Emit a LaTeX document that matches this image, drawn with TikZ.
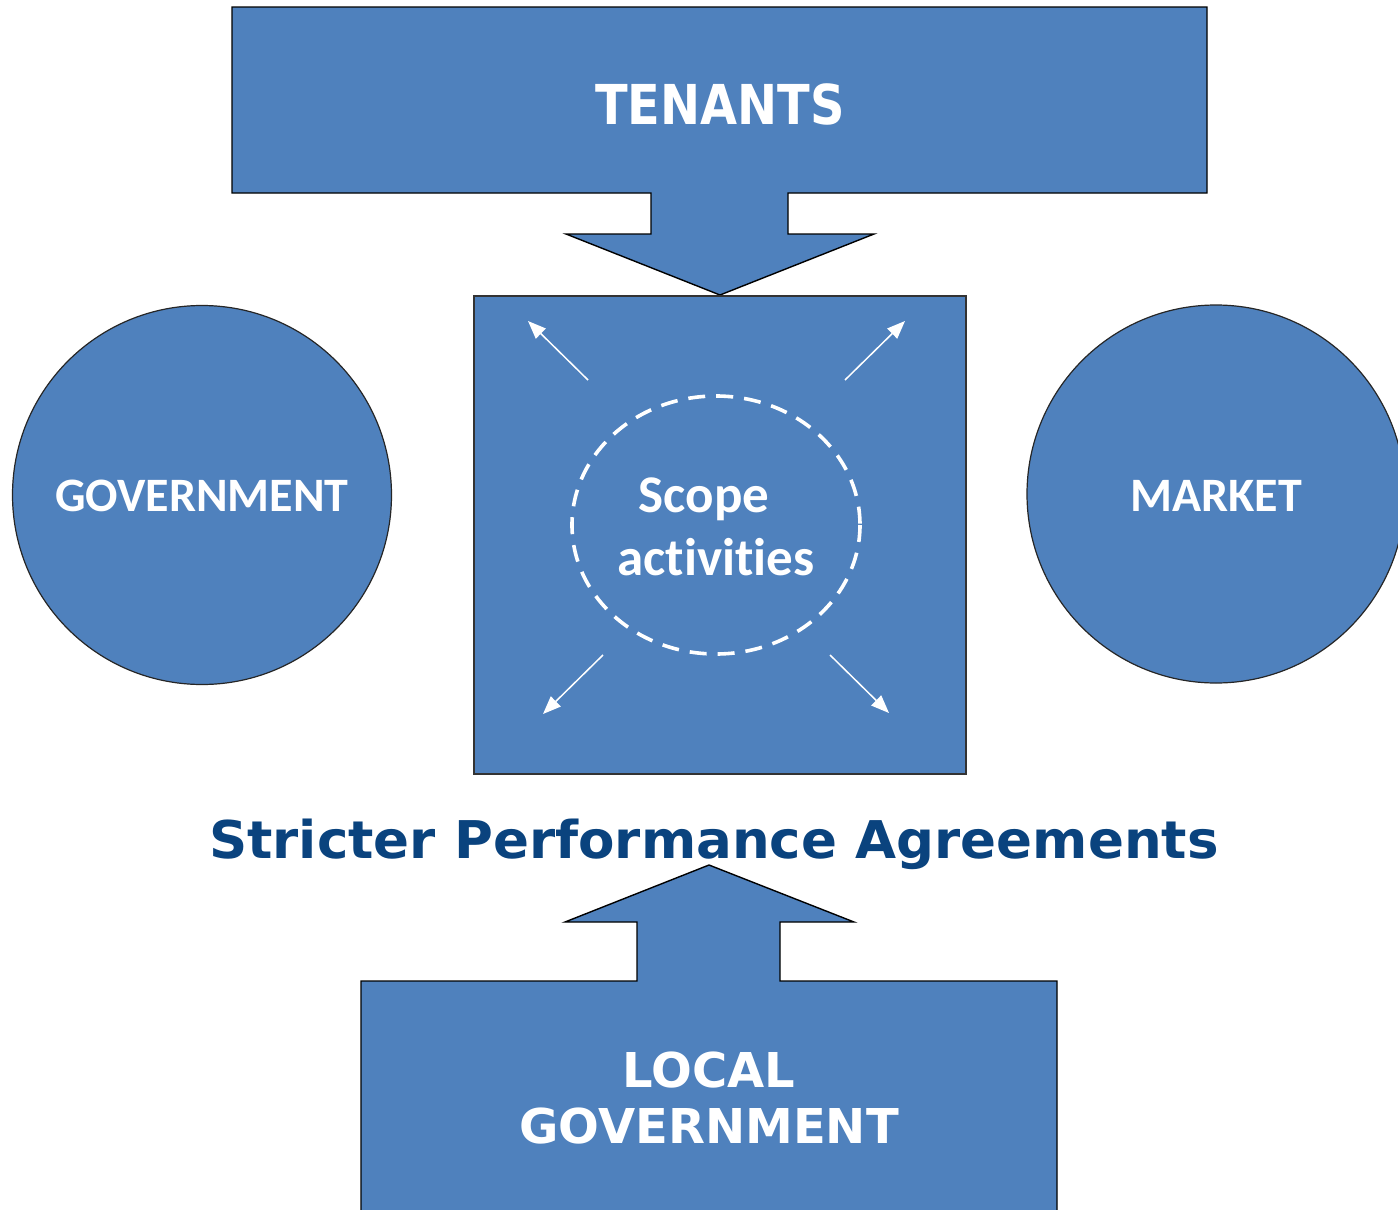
\documentclass[tikz,border=0pt]{standalone}
\usepackage{fontspec}
\usetikzlibrary{arrows.meta,shapes.geometric}
\newfontfamily\calfont[Ligatures=NoCommon]{Carlito}
\newfontfamily\verdfont{DejaVu Sans}
\definecolor{boxblue}{HTML}{4F81BD}
\definecolor{titleblue}{HTML}{0A437E}
\tikzset{
  blueshape/.style={fill=boxblue, draw=black, line width=1.4pt, line join=miter},
  ringtext/.style={text=white, font=\calfont\bfseries\fontsize{48}{52}\selectfont},
  bannertext/.style={text=white, font=\verdfont\bfseries\fontsize{48}{56}\selectfont, align=center},
  spread/.style={draw=white, line width=1.5pt, -{Triangle[length=18pt,width=14pt]}},
}
\begin{document}
\begin{tikzpicture}[x=1pt,y=-1pt]
\useasboundingbox (0,0) rectangle (1398,1210);
\fill[white] (0,0) rectangle (1398,1210);

% top block arrow pointing down
\draw[blueshape] (232,7) -- (1207,7) -- (1207,193) -- (788,193) -- (788,234)
  -- (874,234) -- (720,295) -- (566,234) -- (651,234) -- (651,193) -- (232,193) -- cycle;
\node[bannertext, anchor=base, font=\verdfont\bfseries\fontsize{55}{56}\selectfont] (tenants) at (720,124)
  {\scalebox{0.87}[1]{TENANTS}};

% central square
\draw[fill=boxblue, draw=black!80, line width=1.2pt] (474,296) rectangle (966,774);
\draw[white, line width=3.6pt, dash pattern=on 17pt off 11pt] (716,525) ellipse [x radius=144, y radius=129];
\node[text=white, align=center, anchor=base, font=\calfont\bfseries\fontsize{53}{63}\selectfont] (scope) at (716,575)
  {Scope\hspace*{24pt}\\activities};

% outward arrows
\coordinate (a1s) at (588,380); \coordinate (a1e) at (528,321);
\coordinate (a2s) at (845,380); \coordinate (a2e) at (905,321);
\coordinate (a3s) at (603,655); \coordinate (a3e) at (543,714);
\coordinate (a4s) at (830,655); \coordinate (a4e) at (889,713);
\draw[spread] (a1s) -- (a1e);
\draw[spread] (a2s) -- (a2e);
\draw[spread] (a3s) -- (a3e);
\draw[spread] (a4s) -- (a4e);

% side circles
\draw[fill=boxblue, draw=black!85, line width=1.2pt] (202,495) circle (189.5);
\node[ringtext, anchor=base] (gov) at (202,511) {GOVERNMENT};
\draw[fill=boxblue, draw=black!85, line width=1.2pt] (1216,494) circle (189);
\node[ringtext, anchor=base] (market) at (1216,511) {MARKET};

% caption
\node[text=titleblue, anchor=base, font=\verdfont\bfseries\fontsize{52}{56}\selectfont] (caption) at (714,858)
  {\scalebox{1.02}[1]{Stricter Performance Agreements}};

% bottom block arrow pointing up
\draw[blueshape] (361,1216) -- (361,981) -- (637,981) -- (637,922) -- (565,922)
  -- (709,865) -- (854,922) -- (780,922) -- (780,981) -- (1057,981) -- (1057,1216);
\node[bannertext, anchor=base] (local) at (709,1143) {LOCAL\\GOVERNMENT};
\end{tikzpicture}
\end{document}
